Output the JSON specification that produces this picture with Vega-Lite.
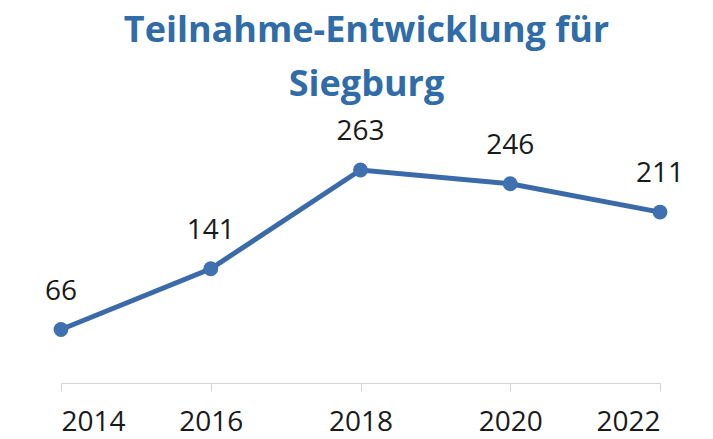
{
  "$schema": "https://vega.github.io/schema/vega-lite/v6.json",
  "width": 599,
  "height": 243,
  "autosize": "none",
  "padding": {"left": 61, "top": 140, "right": 53, "bottom": 56},
  "background": "white",
  "title": {
    "text": ["Teilnahme-Entwicklung für", "Siegburg"],
    "font": "Open Sans",
    "fontWeight": "bold",
    "fontSize": 36,
    "color": "#2f6ca8",
    "lineHeight": 54,
    "anchor": "middle",
    "dx": 6,
    "offset": 14
  },
  "data": {
    "values": [
      {"year": 2014, "count": 66},
      {"year": 2016, "count": 141},
      {"year": 2018, "count": 263},
      {"year": 2020, "count": 246},
      {"year": 2022, "count": 211}
    ]
  },
  "encoding": {
    "x": {
      "field": "year",
      "type": "quantitative",
      "scale": {"domain": [2014, 2022], "nice": false, "zero": false},
      "axis": {
        "title": null,
        "values": [2014, 2016, 2018, 2020, 2022],
        "format": "d",
        "grid": false,
        "domainColor": "#d4d4d4",
        "tickColor": "#d4d4d4",
        "tickSize": 8,
        "labelFont": "Open Sans",
        "labelFontSize": 28,
        "labelColor": "#1a1a1a",
        "labelPadding": 17
      }
    },
    "y": {
      "field": "count",
      "type": "quantitative",
      "scale": {"domain": [0, 300], "nice": false},
      "axis": null
    }
  },
  "layer": [
    {
      "mark": {"type": "line", "color": "#3a6aa8", "strokeWidth": 5}
    },
    {
      "mark": {"type": "point", "filled": true, "color": "#3f70b0", "size": 220, "opacity": 1}
    },
    {
      "mark": {"type": "text", "font": "Open Sans", "fontSize": 28, "color": "#1a1a1a", "baseline": "bottom", "dy": -24},
      "encoding": {"text": {"field": "count", "type": "quantitative"}}
    }
  ],
  "config": {"view": {"stroke": null}}
}
